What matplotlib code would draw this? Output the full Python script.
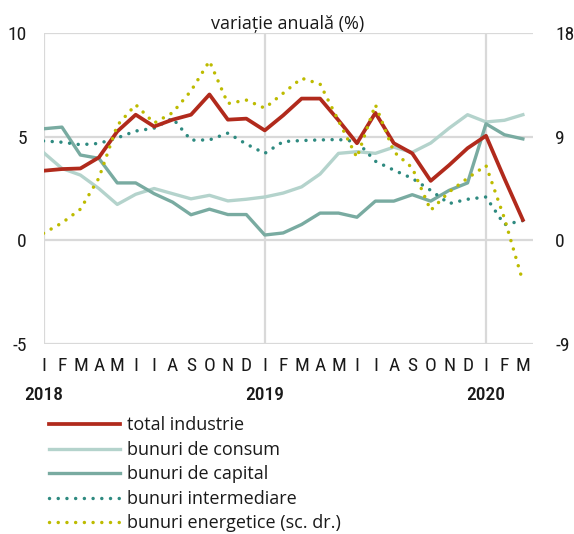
import matplotlib
matplotlib.use('Agg')
from matplotlib import pyplot as plt

# luni ian 2018 - mar 2020
luni = list('IFMAMIIASOND') * 2 + ['I', 'F', 'M']
ani = ['2018', '2019', '2020']
ani_pos = [0, 12, 24]

total_industrie = [3.36, 3.44, 3.47, 4.0, 5.26, 6.07, 5.5, 5.83, 6.07, 7.05, 5.83, 5.88, 5.31,
                   6.04, 6.85, 6.85, 5.8, 4.69, 6.16, 4.69, 4.2, 2.87, 3.63, 4.45, 5.05, 2.98, 0.98]
bunuri_consum = [4.24, 3.47, 3.15, 2.5, 1.73, 2.22, 2.5, 2.25, 2.0, 2.17, 1.9, 1.98, 2.09,
                 2.28, 2.58, 3.2, 4.2, 4.28, 4.2, 4.5, 4.25, 4.7, 5.42, 6.07, 5.72, 5.8, 6.07]
bunuri_capital = [5.39, 5.47, 4.12, 3.96, 2.77, 2.77, 2.25, 1.84, 1.23, 1.5, 1.24, 1.24, 0.25,
                  0.35, 0.76, 1.31, 1.31, 1.11, 1.89, 1.89, 2.2, 1.89, 2.41, 2.77, 5.63, 5.1, 4.9]
bunuri_intermediare = [4.8, 4.74, 4.62, 4.68, 4.95, 5.28, 5.42, 5.9, 4.84, 4.85, 5.18, 4.65, 4.2,
                       4.77, 4.82, 4.85, 4.87, 4.77, 3.82, 3.39, 2.99, 2.41, 1.77, 1.98, 2.09, 0.75, 0.95]
# scala din dreapta
bunuri_energetice = [0.6, 1.5, 2.7, 5.4, 10.0, 11.8, 10.2, 11.1, 13.0, 15.6, 11.9, 12.2, 11.5,
                     12.8, 14.1, 13.6, 10.4, 7.2, 11.8, 7.7, 6.3, 2.6, 4.2, 5.4, 6.5, 1.9, -3.6]

x = list(range(len(luni)))

c_total = '#b12a1c'
c_consum = '#b4d3cc'
c_capital = '#79aba1'
c_interm = '#2e8a80'
c_energ = '#bdbb00'
c_grid = '#d9d9d9'
c_text = '#1a1a1a'

narrow = ['Roboto Condensed', 'Roboto', 'DejaVu Sans']

fig = plt.figure(figsize=(5.74, 5.34), dpi=100)
ax = fig.add_axes([0.0758, 0.3567, 0.8528, 0.5806])
ax2 = ax.twinx()

ax.set_xlim(0, 26.55)
ax.set_ylim(-5, 10)
ax2.set_ylim(-9, 18)

for v in [-5, 0, 5, 10]:
    ax.axhline(v, color=c_grid, lw=1.6, zorder=0)
for p in ani_pos:
    ax.axvline(p, color=c_grid, lw=1.6, zorder=0)

l1, = ax.plot(x, total_industrie, color=c_total, lw=2.7, label='total industrie', zorder=5)
l2, = ax.plot(x, bunuri_consum, color=c_consum, lw=2.4, label='bunuri de consum', zorder=3)
l3, = ax.plot(x, bunuri_capital, color=c_capital, lw=2.4, label='bunuri de capital', zorder=3)
l4, = ax.plot(x, bunuri_intermediare, color=c_interm, lw=2.5, linestyle=(0, (0.01, 2.5)),
              dash_capstyle='round', label='bunuri intermediare', zorder=4)
l5, = ax2.plot(x, bunuri_energetice, color=c_energ, lw=2.5, linestyle=(0, (0.01, 2.5)),
               dash_capstyle='round', label='bunuri energetice (sc. dr.)')

for a in (ax, ax2):
    for s in a.spines.values():
        s.set_visible(False)
    a.tick_params(length=0, colors=c_text)

tick_font = dict(family=narrow, size=14)
ax.set_yticks([-5, 0, 5, 10])
ax.set_yticklabels(['-5', '0', '5', '10'], fontdict=tick_font)
ax.tick_params(axis='y', pad=12)
ax2.set_yticks([-9, 0, 9, 18])
ax2.set_yticklabels(['-9', '0', '9', '18'], fontdict=tick_font)
ax2.tick_params(axis='y', pad=16)

ax.set_xticks(x)
ax.set_xticklabels(luni, fontdict=tick_font)
ax.tick_params(axis='x', pad=10)

for p, an in zip(ani_pos, ani):
    ax.text(p, -0.165, an, transform=ax.get_xaxis_transform(), ha='center', va='center',
            family=narrow, size=14, weight='medium', color=c_text)

fig.text(0.501, 0.955, 'variație anuală (%)', ha='center', va='center',
         family='Open Sans', size=13, color=c_text)

fig.legend(handles=[l1, l2, l3, l4, l5], loc='upper left', bbox_to_anchor=(0.07, 0.237),
           frameon=False, prop=dict(family='Open Sans', size=13), handlelength=3.9,
           handletextpad=0.4, labelspacing=0.36, borderpad=0, labelcolor=c_text)

fig.savefig('out.png', dpi=100)
